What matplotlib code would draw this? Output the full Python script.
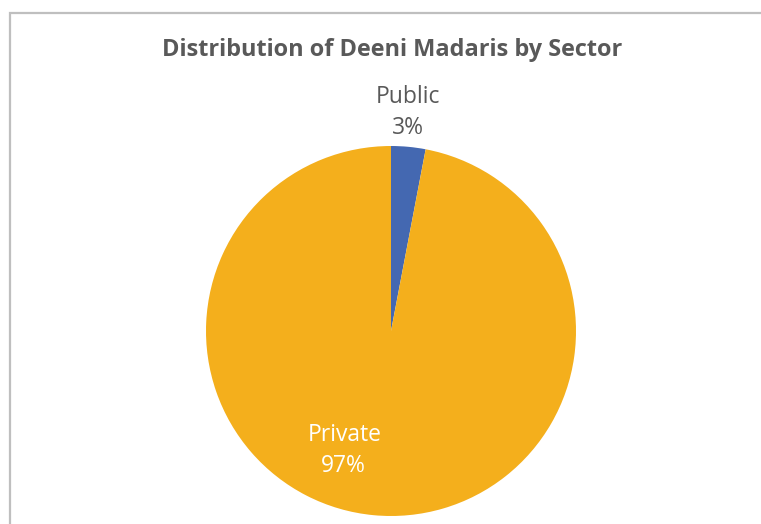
import matplotlib.pyplot as plt
from matplotlib.patches import Rectangle

sectors = ["Public", "Private"]
shares = [3, 97]
colors = ["#4468B1", "#F4AF1C"]

plt.rcParams['font.family'] = ['Open Sans', 'DejaVu Sans']

fig = plt.figure(figsize=(7.61, 5.24), dpi=100)

# chart frame (cropped screenshot of an Excel chart)
fig.patches.append(Rectangle((10 / 761, -0.1), 1.0, 1 - 13 / 524 + 0.1,
                             transform=fig.transFigure, fill=False,
                             edgecolor="#bfbfbf", linewidth=1.6))

fig.text(392 / 761, 1 - 50 / 524, "Distribution of Deeni Madaris by Sector",
         ha="center", va="center", fontsize=16.9, fontweight="bold", color="#595959")

ax = fig.add_axes([206 / 761, 8 / 524, 370 / 761, 370 / 524])
ax.pie(shares, colors=colors, startangle=90, counterclock=False,
       wedgeprops=dict(linewidth=0))
ax.set_xlim(-1, 1)
ax.set_ylim(-1, 1)
ax.set_aspect("equal")

# data labels: name on one line, percentage below
ax.text(0.092, 1.265, sectors[0], ha="center", va="center",
        fontsize=16.5, color="#595959", clip_on=False)
ax.text(0.092, 1.097, "{}%".format(shares[0]), ha="center", va="center",
        fontsize=16.5, color="#595959", clip_on=False)
ax.text(-0.25, -0.562, sectors[1], ha="center", va="center",
        fontsize=16.5, color="white")
ax.text(-0.26, -0.73, "{}%".format(shares[1]), ha="center", va="center",
        fontsize=16.5, color="white")

fig.savefig("out.png", dpi=100)
